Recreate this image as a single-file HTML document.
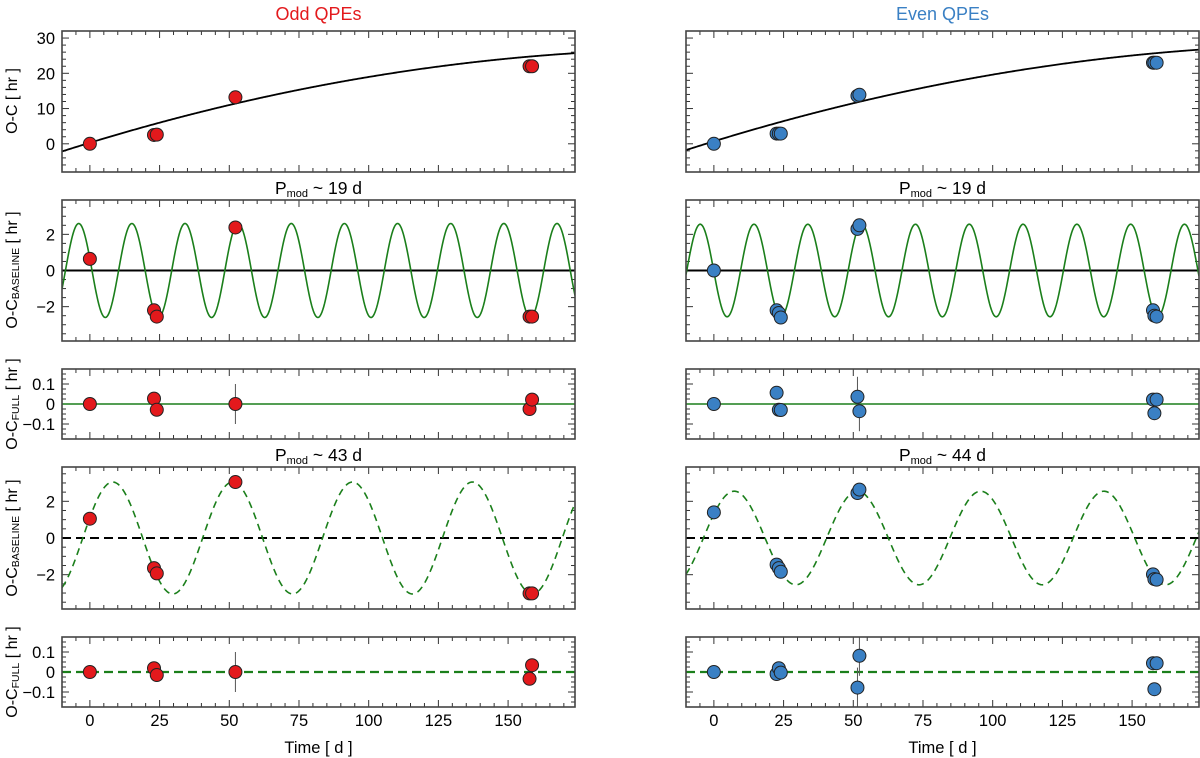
<!DOCTYPE html>
<html><head><meta charset="utf-8"><style>
body{margin:0;background:#fff}
svg{display:block;font-family:"Liberation Sans",Arial,sans-serif}
</style></head><body>
<svg id="chart" width="1200" height="758" viewBox="0 0 1200 758"></svg>
<script>
// ---- data ----
const oddT = [0, 23, 24, 52.2, 157.7, 158.6];
const oddOC = [0, 2.5, 2.6, 13.2, 22, 22];
const oddBase19 = [0.64, -2.2, -2.55, 2.38, -2.55, -2.55];
const oddFull19 = [0, 0.027, -0.029, 0, -0.025, 0.022];
const oddErr19 = [0.03, 0.03, 0.03, 0.1, 0.03, 0.03];
const oddBase43 = [1.05, -1.64, -1.93, 3.05, -3.02, -3.02];
const oddFull43 = [0, 0.019, -0.015, 0, -0.034, 0.034];
const oddErr43 = [0.03, 0.03, 0.03, 0.1, 0.03, 0.03];
const evenT = [0, 22.5, 23.3, 24, 51.5, 52.2, 157.5, 158, 158.8];
const evenOC = [0, 2.9, 2.9, 2.9, 13.6, 13.9, 23, 23, 23];
const evenBase19 = [0, -2.2, -2.35, -2.6, 2.3, 2.5, -2.2, -2.5, -2.55];
const evenFull19 = [0, 0.056, -0.029, -0.03, 0.036, -0.036, 0.022, -0.046, 0.022];
const evenErr19 = [0.03, 0.03, 0.03, 0.03, 0.1, 0.1, 0.03, 0.03, 0.03];
const evenBase44 = [1.4, -1.45, -1.64, -1.84, 2.45, 2.64, -1.98, -2.24, -2.27];
const evenFull44 = [0, -0.01, 0.019, -0.003, -0.078, 0.081, 0.044, -0.086, 0.044];
const evenErr44 = [0.03, 0.03, 0.03, 0.03, 0.1, 0.1, 0.03, 0.03, 0.03];
// model parameters
const oddPoly = [0.3, 0.2414, -0.000548];
const evenPoly = [0.7, 0.2429, -0.000537];
const oddSin19 = [2.6, 19.06, -4.0];   // amplitude, period, peak time
const evenSin19 = [2.56, 19.3, -4.9];
const oddSin43 = [3.05, 43.0, 8.2];
const evenSin44 = [2.55, 44.2, 7.3];
const xTicks = [0, 25, 50, 75, 100, 125, 150];
const xDomain = [-10, 174];

const NS = 'http://www.w3.org/2000/svg';
const svg = document.getElementById('chart');
function el(tag, attrs, parent) {
  const e = document.createElementNS(NS, tag);
  for (const k in attrs) e.setAttribute(k, attrs[k]);
  (parent || svg).appendChild(e);
  return e;
}
const cols = [{x0: 62, x1: 575, color: '#e3191c', labels: true}, {x0: 686, x1: 1199, color: '#3a80c4', labels: false}];
const rows = [
  {y0: 31, y1: 172, d: [-8, 32], maj: 10, min: 2, ticks: [0, 10, 20, 30], fmt: v => String(v), lab: 'O-C', sub: '', ly: 101},
  {y0: 200, y1: 341, d: [-3.9, 3.9], maj: 2, min: 0.5, ticks: [-2, 0, 2], fmt: v => v < 0 ? '\u2212' + (-v) : String(v), lab: 'O-C', sub: 'BASELINE', ly: 270},
  {y0: 369, y1: 439, d: [-0.175, 0.175], maj: 0.1, min: 0.025, ticks: [-0.1, 0, 0.1], fmt: v => v < 0 ? '\u22120.1' : (v > 0 ? '0.1' : '0'), lab: 'O-C', sub: 'FULL', ly: 404},
  {y0: 467, y1: 609, d: [-3.87, 3.87], maj: 2, min: 0.5, ticks: [-2, 0, 2], fmt: v => v < 0 ? '\u2212' + (-v) : String(v), lab: 'O-C', sub: 'BASELINE', ly: 538},
  {y0: 637, y1: 707, d: [-0.175, 0.175], maj: 0.1, min: 0.025, ticks: [-0.1, 0, 0.1], fmt: v => v < 0 ? '\u22120.1' : (v > 0 ? '0.1' : '0'), lab: 'O-C', sub: 'FULL', ly: 672}
];
const datasets = [
  {t: oddT, ys: [oddOC, oddBase19, oddFull19, oddBase43, oddFull43], errs: [null, null, oddErr19, null, oddErr43], poly: oddPoly, s1: oddSin19, s2: oddSin43, side: 'odd'},
  {t: evenT, ys: [evenOC, evenBase19, evenFull19, evenBase44, evenFull44], errs: [null, null, evenErr19, null, evenErr44], poly: evenPoly, s1: evenSin19, s2: evenSin44, side: 'even'}
];
const G = '#1b7f1b';

cols.forEach((c, ci) => {
  const ds = datasets[ci];
  const sx = v => c.x0 + (v - xDomain[0]) / (xDomain[1] - xDomain[0]) * (c.x1 - c.x0);
  const title = el('text', {x: (c.x0 + c.x1) / 2, y: 20, 'text-anchor': 'middle', 'font-size': 18, fill: c.color});
  title.textContent = ci === 0 ? 'Odd QPEs' : 'Even QPEs';
  
  
  rows.forEach((r, ri) => {
    const g = el('g', {});
    
    
    const sy = v => r.y1 - (v - r.d[0]) / (r.d[1] - r.d[0]) * (r.y1 - r.y0);
    const clipId = 'clip' + ci + ri;
    const cp = el('clipPath', {id: clipId}, g);
    el('rect', {x: c.x0, y: r.y0, width: c.x1 - c.x0, height: r.y1 - r.y0}, cp);
    const tk = el('g', {stroke: '#333', 'stroke-width': 1}, g);
    for (let v = -10; v <= 174; v += 5) {
      const L = v % 25 === 0 ? 7 : 4;
      const x = sx(v);
      el('line', {x1: x, x2: x, y1: r.y1, y2: r.y1 - L}, tk);
      el('line', {x1: x, x2: x, y1: r.y0, y2: r.y0 + L}, tk);
    }
    const nmin = Math.ceil(r.d[0] / r.min - 1e-6), nmax = Math.floor(r.d[1] / r.min + 1e-6);
    for (let k = nmin; k <= nmax; k++) {
      const v = k * r.min;
      const isMaj = Math.abs(v / r.maj - Math.round(v / r.maj)) < 1e-6;
      const L = isMaj ? 7 : 4;
      const y = sy(v);
      el('line', {x1: c.x0, x2: c.x0 + L, y1: y, y2: y}, tk);
      el('line', {x1: c.x1, x2: c.x1 - L, y1: y, y2: y}, tk);
    }
    if (c.labels) {
      r.ticks.forEach(v => {
        const t = el('text', {x: c.x0 - 7, y: sy(v) + 6, 'text-anchor': 'end', 'font-size': 16.5, fill: '#000'}, g);
        t.textContent = r.fmt(v);
      });
      const yl = el('text', {transform: `translate(17,${r.ly}) rotate(-90)`, 'text-anchor': 'middle', 'font-size': 16, fill: '#000'}, g);
      
      
      yl.appendChild(document.createTextNode(r.lab));
      if (r.sub) { const s = el('tspan', {'font-size': 10.5, dy: 2}, yl); s.textContent = r.sub; const s2 = el('tspan', {dy: -2}, yl); s2.textContent = ' [ hr ]'; }
      else yl.appendChild(document.createTextNode(' [ hr ]'));
    }
    if (ri === 1 || ri === 3) {
      const p = ri === 1 ? '19' : (ci === 0 ? '43' : '44');
      const tt = el('text', {x: (c.x0 + c.x1) / 2, y: r.y0 - 6, 'text-anchor': 'middle', 'font-size': 17.5, fill: '#000'}, g);
      
      
      tt.appendChild(document.createTextNode('P'));
      const sb = el('tspan', {'font-size': 11, dy: 3}, tt); sb.textContent = 'mod';
      const rest = el('tspan', {dy: -3}, tt); rest.textContent = ' ~ ' + p + ' d';
    }
    const pl = el('g', {'clip-path': `url(#${clipId})`}, g);
    const modelPath = f => { let d = ''; for (let i = 0; i <= 600; i++) { const v = xDomain[0] + i / 600 * (xDomain[1] - xDomain[0]); d += (i ? 'L' : 'M') + sx(v).toFixed(2) + ',' + sy(f(v)).toFixed(2); } return d; };
    if (ri === 0) {
      const p = ds.poly;
      const m = el('path', {d: modelPath(v => p[0] + p[1] * v + p[2] * v * v), fill: 'none', stroke: '#000', 'stroke-width': 1.8}, pl);
       
    } else if (ri === 1 || ri === 3) {
      const s = ri === 1 ? ds.s1 : ds.s2;
      const dash = ri === 3 ? '7,5' : null;
      const z = el('line', {x1: c.x0, x2: c.x1, y1: sy(0), y2: sy(0), stroke: '#000', 'stroke-width': 2}, pl);
      if (dash) z.setAttribute('stroke-dasharray', '9,5');
       
      const m = el('path', {d: modelPath(v => s[0] * Math.cos(2 * Math.PI * (v - s[2]) / s[1])), fill: 'none', stroke: G, 'stroke-width': 1.6}, pl);
      if (dash) m.setAttribute('stroke-dasharray', dash);
       
    } else {
      const z = el('line', {x1: c.x0, x2: c.x1, y1: sy(0), y2: sy(0), stroke: G, 'stroke-width': ri === 4 ? 2.2 : 1.6}, pl);
      if (ri === 4) z.setAttribute('stroke-dasharray', '9,5');
       
    }
    const ys = ds.ys[ri], errs = ds.errs[ri];
    ds.t.forEach((tv, i) => {
      if (errs) {
        const eb = el('line', {x1: sx(tv), x2: sx(tv), y1: sy(ys[i] - errs[i]), y2: sy(ys[i] + errs[i]), stroke: '#555', 'stroke-width': 1}, pl);
         
      }
    });
    ds.t.forEach((tv, i) => {
      const pt = el('circle', {cx: sx(tv), cy: sy(ys[i]), r: 6.5, fill: c.color, stroke: '#222', 'stroke-width': 1}, pl);
       
    });
    el('rect', {x: c.x0, y: r.y0, width: c.x1 - c.x0, height: r.y1 - r.y0, fill: 'none', stroke: '#444', 'stroke-width': 1.6}, g);
    if (ri === 4) {
      xTicks.forEach(v => {
        const t = el('text', {x: sx(v), y: 726, 'text-anchor': 'middle', 'font-size': 16.5, fill: '#000'}, g);
        t.textContent = v;
      });
      const xl = el('text', {x: (c.x0 + c.x1) / 2, y: 753, 'text-anchor': 'middle', 'font-size': 16.5, fill: '#000'}, g);
      xl.textContent = 'Time [ d ]';
       
    }
  });
});
</script>
</body></html>
